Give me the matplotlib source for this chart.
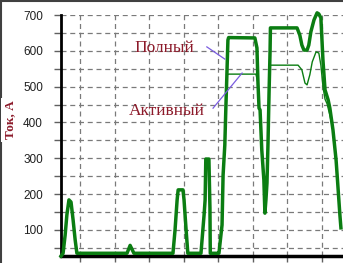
import numpy as np
import matplotlib.pyplot as plt
from matplotlib.lines import Line2D

# time in s, current in A
t_full = [4.5, 5.1, 5.7, 6.2, 6.8, 7.4, 8.0, 8.6, 9.1,
          23.6, 24.5, 25.6,
          36.9, 37.5, 38.1, 38.4, 39.8, 40.1, 40.7, 41.2,
          45.0, 45.9, 46.2, 46.4, 47.3, 47.6, 47.7,
          49.6, 50.2, 51.1, 51.4, 51.9, 52.2, 52.5, 52.8, 53.0,
          60.6, 61.2, 61.5, 61.8, 62.1, 62.6, 63.2, 63.5, 63.8, 64.1, 64.4, 64.7, 65.0, 65.1,
          72.8, 73.6, 74.2, 74.8, 75.7, 76.2, 76.8, 77.7, 78.6, 79.1, 79.7,
          80.3, 80.9, 81.8, 82.3, 83.2, 84.1, 84.6, 85.2, 85.5]
i_full = [27, 35, 86, 142, 184, 178, 128, 72, 35,
          35, 57, 35,
          35, 100, 184, 212, 212, 184, 100, 35,
          35, 142, 184, 298, 298, 161, 35,
          35, 35, 114, 253, 337, 440, 533, 630, 637,
          636, 608, 510, 440, 435, 323, 240, 147, 184, 231, 343, 482, 602, 664,
          664, 644, 616, 602, 602, 616, 653, 686, 706, 703, 692,
          574, 491, 463, 440, 379, 295, 226, 142, 106]

t_act = [4.5, 5.1, 5.7, 6.2, 6.8, 7.4, 8.0, 8.6, 9.1,
         23.6, 24.5, 25.6,
         36.9, 37.5, 38.1, 38.4, 39.8, 40.1, 40.7, 41.2,
         45.0, 45.9, 46.2, 46.4, 47.3, 47.6, 47.7,
         49.6, 50.2, 51.1, 51.4, 51.9, 52.2, 52.5, 53.0,
         60.9, 61.5, 61.8, 62.1, 62.6, 63.2, 63.5, 63.8, 64.1, 64.4, 64.7, 65.0,
         73.1, 74.2, 75.1, 75.7, 76.5, 77.2, 78.3, 79.1, 79.7,
         80.3, 80.9, 81.5, 82.3, 83.2, 84.1, 84.6, 85.2, 85.5]
i_act = [27, 35, 86, 142, 184, 178, 128, 72, 35,
         35, 57, 35,
         35, 100, 184, 212, 212, 184, 100, 35,
         35, 142, 184, 298, 298, 161, 35,
         35, 35, 114, 253, 337, 440, 533, 535,
         535, 510, 440, 435, 323, 240, 147, 184, 231, 343, 482, 560,
         560, 547, 510, 505, 533, 569, 597, 594, 560,
         500, 465, 452, 420, 379, 295, 226, 142, 106]

green = '#0b7d12'
red = '#8c1a2a'
violet = '#7a5ce0'

fig = plt.figure(figsize=(3.43, 2.63), dpi=100)
ax = fig.add_axes([61/343, 7/263, 282/343, 241/263])

ax.plot(t_act, i_act, color=green, lw=1.0, clip_on=False, zorder=3)
ax.plot(t_full, i_full, color=green, lw=2.5, clip_on=False, zorder=4)

ax.set_xlim(4.5, 86.1)
ax.set_ylim(27.4, 700)
ax.set_xticks(np.arange(10, 90, 10))
ax.set_xticklabels([])
ax.set_yticks(np.arange(100, 701, 100))
ax.set_yticks(np.arange(50, 701, 100), minor=True)
ax.tick_params(axis='y', which='both', direction='out', length=5, width=1,
               color='#606060', pad=8, labelsize=8.5, labelcolor='#202020')
ax.tick_params(axis='x', direction='out', length=4, width=1, color='#606060')
for lab in ax.get_yticklabels():
    lab.set_fontfamily('Liberation Sans')
ax.grid(True, which='both', color='#7a7a7a', linestyle=(0, (4, 3)), lw=0.9)

for s in ['top', 'right']:
    ax.spines[s].set_visible(False)
ax.spines['left'].set_linewidth(2)
ax.spines['bottom'].set_linewidth(2.5)

# labels and leader lines
ax.text(34.3, 608, 'Полный', color=red, fontsize=12.5, family='Liberation Serif',
        ha='center', va='center')
ax.text(35.2, 432, 'Активный', color=red, fontsize=12.5, family='Liberation Serif',
        ha='center', va='center')
ax.plot([46.7, 51.9], [611, 577], color=violet, lw=0.9, zorder=5)
ax.plot([48.5, 56.9], [440, 538], color=violet, lw=0.9, zorder=5)

# frame round the picture
fig.add_artist(Line2D([0, 1], [0.996, 0.996], color='#404040', lw=1.5))
fig.add_artist(Line2D([0.003, 0.003], [0, 1], color='#404040', lw=1.5))
fig.text(10/343, 1 - 120/263, 'Ток, А', rotation=90, color=red, fontsize=9.5,
         fontweight='bold', family='Liberation Serif', ha='center', va='center',
         bbox=dict(facecolor='white', edgecolor='none', pad=2))

fig.savefig('out.png', dpi=100)
